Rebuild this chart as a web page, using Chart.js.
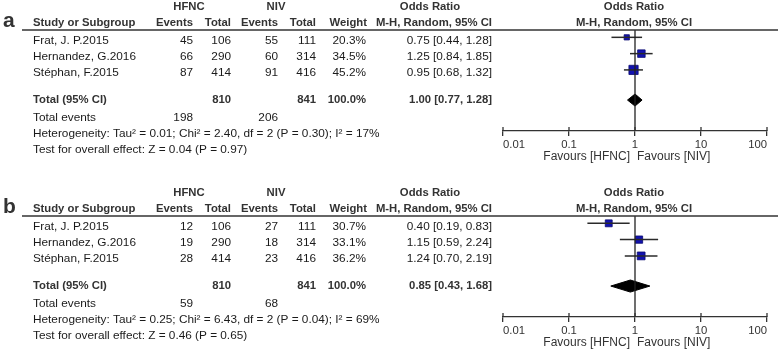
<!DOCTYPE html>
<html>
<head>
<meta charset="utf-8">
<script src="https://cdn.jsdelivr.net/npm/chart.js@4.4.1/dist/chart.umd.min.js"></script>
<style>
  body { margin: 0; background: #fff; }
  canvas { display: block; }
</style>
</head>
<body>
<canvas id="panel_a" width="778" height="186"></canvas>
<canvas id="panel_b" width="778" height="166"></canvas>
<script>
// shared
const studies = ['Frat, J. P.2015', 'Hernandez, G.2016', 'Stéphan, F.2015'];
const axisTicks = [0.01, 0.1, 1, 10, 100];

// panel a
const aHfncEvents = [45, 66, 87];
const aHfncTotal = [106, 290, 414];
const aNivEvents = [55, 60, 91];
const aNivTotal = [111, 314, 416];
const aWeight = [20.3, 34.5, 45.2];
const aOR = [0.75, 1.25, 0.95];
const aLower = [0.44, 0.84, 0.68];
const aUpper = [1.28, 1.85, 1.32];
const aPooled = [1.00, 0.77, 1.28]; // estimate, lower, upper
const aTotals = [810, 841];
const aTotalEvents = [198, 206];
const aHetero = 'Heterogeneity: Tau² = 0.01; Chi² = 2.40, df = 2 (P = 0.30); I² = 17%';
const aEffect = 'Test for overall effect: Z = 0.04 (P = 0.97)';

// panel b
const bHfncEvents = [12, 19, 28];
const bHfncTotal = [106, 290, 414];
const bNivEvents = [27, 18, 23];
const bNivTotal = [111, 314, 416];
const bWeight = [30.7, 33.1, 36.2];
const bOR = [0.40, 1.15, 1.24];
const bLower = [0.19, 0.59, 0.70];
const bUpper = [0.83, 2.24, 2.19];
const bPooled = [0.85, 0.43, 1.68];
const bTotals = [810, 841];
const bTotalEvents = [59, 68];
const bHetero = 'Heterogeneity: Tau² = 0.25; Chi² = 6.43, df = 2 (P = 0.04); I² = 69%';
const bEffect = 'Test for overall effect: Z = 0.46 (P = 0.65)';

Chart.defaults.font.family = '"Liberation Sans", Arial, sans-serif';

const TOTAL_ROW = 3.85;
const DIAMOND_H = 0.37;

// draws the table text next to the plot
const tablePlugin = {
  id: 'forestTable',
  afterDraw(chart, args, opts) {
    const p = opts.panel;
    const ctx = chart.ctx;
    const fmt = (v) => v.toFixed(2);
    const txt = (s, x, y, align, bold, size) => {
      ctx.font = (bold ? 'bold ' : '') + (size || (bold ? 11.3 : 11.8)) + 'px "Liberation Sans", Arial, sans-serif';
      ctx.textAlign = align;
      ctx.fillStyle = bold ? '#333' : '#1a1a1a';
      ctx.fillText(s, x, y);
    };
    ctx.save();

    // panel letter
    ctx.textBaseline = 'alphabetic';
    txt(p.letter, 3, 27, 'left', true, 21);
    ctx.textBaseline = 'middle';

    // header
    txt('HFNC', 189, 7, 'center', true);
    txt('NIV', 276, 7, 'center', true);
    txt('Odds Ratio', 430, 7, 'center', true);
    txt('Odds Ratio', 634, 7, 'center', true);
    txt('Study or Subgroup', 33, 23, 'left', true);
    txt('Events', 193, 23, 'right', true);
    txt('Total', 231, 23, 'right', true);
    txt('Events', 278, 23, 'right', true);
    txt('Total', 316, 23, 'right', true);
    txt('Weight', 367, 23, 'right', true);
    txt('M-H, Random, 95% CI', 492, 23, 'right', true);
    txt('M-H, Random, 95% CI', 634, 23, 'center', true);

    ctx.strokeStyle = '#333';
    ctx.lineWidth = 1.3;
    ctx.beginPath();
    ctx.moveTo(22, 30);
    ctx.lineTo(778, 30);
    ctx.stroke();

    // study rows
    studies.forEach((s, i) => {
      const y = 41 + i * 16;
      txt(s, 33, y, 'left');
      txt(String(p.hfncEvents[i]), 193, y, 'right');
      txt(String(p.hfncTotal[i]), 231, y, 'right');
      txt(String(p.nivEvents[i]), 278, y, 'right');
      txt(String(p.nivTotal[i]), 316, y, 'right');
      txt(p.weight[i].toFixed(1) + '%', 366, y, 'right');
      txt(fmt(p.or[i]) + ' [' + fmt(p.lower[i]) + ', ' + fmt(p.upper[i]) + ']', 492, y, 'right');
    });

    // totals
    txt('Total (95% CI)', 33, 100, 'left', true);
    txt(String(p.totals[0]), 231, 100, 'right', true);
    txt(String(p.totals[1]), 316, 100, 'right', true);
    txt('100.0%', 366, 100, 'right', true);
    txt(fmt(p.pooled[0]) + ' [' + fmt(p.pooled[1]) + ', ' + fmt(p.pooled[2]) + ']', 492, 100, 'right', true);
    txt('Total events', 33, 118, 'left');
    txt(String(p.totalEvents[0]), 193, 118, 'right');
    txt(String(p.totalEvents[1]), 278, 118, 'right');
    txt(p.hetero, 33, 134, 'left');
    txt(p.effect, 33, 150, 'left');

    // tick marks poke a little above the axis line too
    const xs = chart.scales.x;
    const yAxis = chart.chartArea.bottom;
    ctx.beginPath();
    axisTicks.forEach(v => {
      const px = xs.getPixelForValue(v);
      ctx.moveTo(px, yAxis - 4);
      ctx.lineTo(px, yAxis);
    });
    ctx.stroke();

    // favours labels around the line of no effect
    const x1 = xs.getPixelForValue(1);
    ctx.fillStyle = '#333';
    ctx.font = '12px "Liberation Sans", Arial, sans-serif';
    ctx.textAlign = 'right';
    ctx.fillText('Favours [HFNC]', x1 - 5, 157);
    ctx.textAlign = 'left';
    ctx.fillText('Favours [NIV]', x1 + 2, 157);
    ctx.restore();
  }
};

function makePanel(id, p) {
  const canvas = document.getElementById(id);
  const H = canvas.height;
  const datasets = [];

  // line of no effect
  datasets.push({
    data: [{ x: 1, y: -0.5 }, { x: 1, y: 6 }],
    showLine: true, borderColor: '#222', borderWidth: 1.3, pointRadius: 0
  });
  // confidence intervals
  studies.forEach((s, i) => {
    datasets.push({
      data: [{ x: p.lower[i], y: i }, { x: p.upper[i], y: i }],
      showLine: true, borderColor: '#2a2a2a', borderWidth: 1.5, pointRadius: 0
    });
  });
  // study estimates, sized by weight
  datasets.push({
    data: p.or.map((v, i) => ({ x: v, y: i })),
    pointStyle: 'rect',
    pointRadius: (c) => (2 + 0.16 * p.weight[c.dataIndex]) / Math.SQRT2,
    backgroundColor: '#1212b0',
    borderColor: '#0a0a70',
    borderWidth: 0.8
  });
  // pooled diamond
  datasets.push({
    data: [
      { x: p.pooled[1], y: TOTAL_ROW },
      { x: p.pooled[0], y: TOTAL_ROW - DIAMOND_H },
      { x: p.pooled[2], y: TOTAL_ROW },
      { x: p.pooled[0], y: TOTAL_ROW + DIAMOND_H },
      { x: p.pooled[1], y: TOTAL_ROW }
    ],
    showLine: true, fill: 'shape', tension: 0,
    borderColor: '#000', backgroundColor: '#000', borderWidth: 1, pointRadius: 0
  });

  new Chart(canvas, {
    type: 'scatter',
    data: { datasets: datasets },
    options: {
      responsive: false,
      animation: false,
      layout: { padding: { left: 503, right: 11, top: 30, bottom: 0 } },
      plugins: {
        legend: { display: false },
        tooltip: { enabled: false },
        forestTable: { panel: p }
      },
      scales: {
        x: {
          type: 'logarithmic',
          min: 0.01,
          max: 100,
          afterBuildTicks: (scale) => { scale.ticks = axisTicks.map(v => ({ value: v })); },
          afterFit: (scale) => { scale.height = H - 131; },
          grid: { drawOnChartArea: false, drawTicks: true, tickLength: 5, color: '#333', lineWidth: 1.3 },
          border: { display: true, color: '#333', width: 1.3 },
          ticks: {
            color: '#333',
            align: 'inner',
            padding: 2,
            maxRotation: 0,
            autoSkip: false,
            font: { size: 11.3 },
            callback: (v) => String(v)
          }
        },
        y: {
          display: false,
          reverse: true,
          min: -0.45,
          max: 5.75
        }
      }
    },
    plugins: [tablePlugin]
  });
}

makePanel('panel_a', {
  letter: 'a',
  hfncEvents: aHfncEvents, hfncTotal: aHfncTotal, nivEvents: aNivEvents, nivTotal: aNivTotal,
  weight: aWeight, or: aOR, lower: aLower, upper: aUpper, pooled: aPooled,
  totals: aTotals, totalEvents: aTotalEvents, hetero: aHetero, effect: aEffect
});
makePanel('panel_b', {
  letter: 'b',
  hfncEvents: bHfncEvents, hfncTotal: bHfncTotal, nivEvents: bNivEvents, nivTotal: bNivTotal,
  weight: bWeight, or: bOR, lower: bLower, upper: bUpper, pooled: bPooled,
  totals: bTotals, totalEvents: bTotalEvents, hetero: bHetero, effect: bEffect
});
</script>
</body>
</html>
